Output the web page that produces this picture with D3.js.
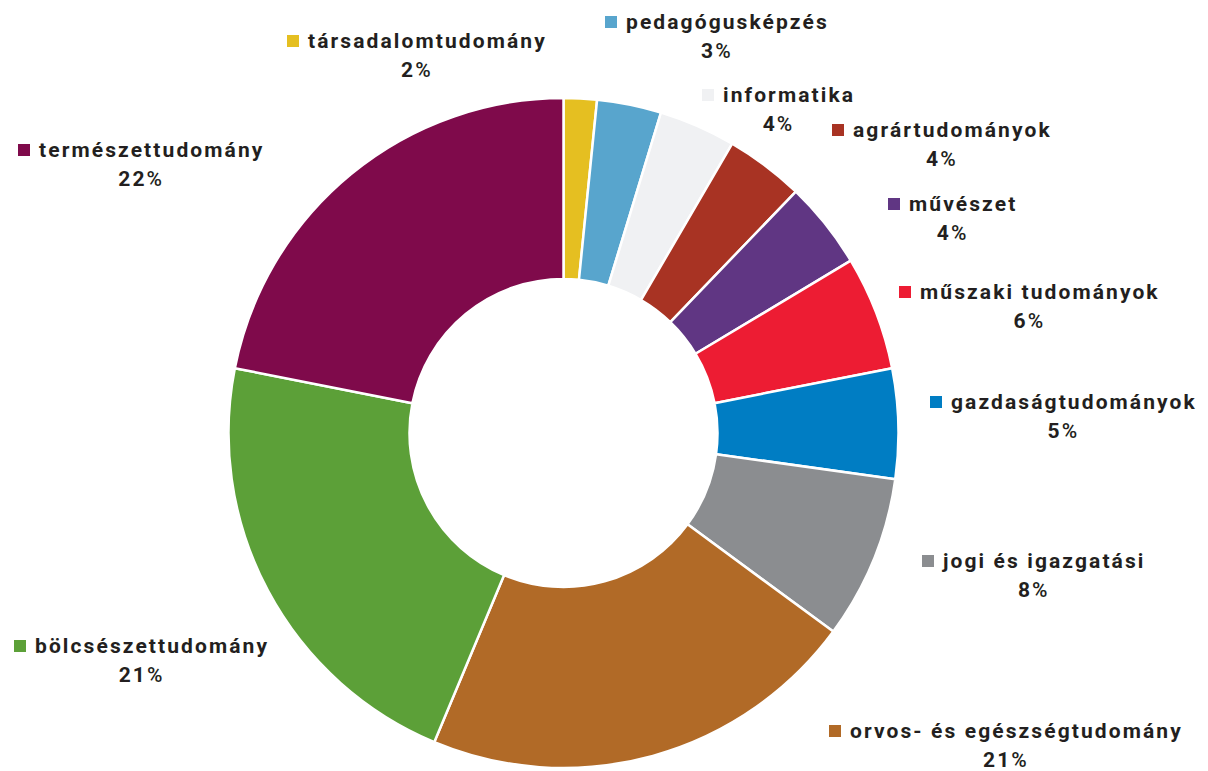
<!DOCTYPE html>
<html>
<head>
<meta charset="utf-8">
<script src="https://cdn.jsdelivr.net/npm/d3@7"></script>
<style>
  html, body { margin: 0; padding: 0; background: #fff; }
  svg { display: block; }
  .lbl { font-family: Roboto, "Noto Sans", sans-serif; font-size: 21px; font-weight: 700; fill: #231f20; letter-spacing: 2.1px; }
  .pct-sign { font-weight: 500; }
</style>
</head>
<body>
<svg id="chart" width="1208" height="771"></svg>
<script>
// szakterületek, óramutató irányában 12 órától
var categories = ["társadalomtudomány", "pedagógusképzés", "informatika", "agrártudományok", "művészet",
	"műszaki tudományok", "gazdaságtudományok", "jogi és igazgatási", "orvos- és egészségtudomány",
	"bölcsészettudomány", "természettudomány"];
// szelet méret (%), a képről becsülve
var shares = [1.6, 3.1, 3.7, 3.8, 4.2, 5.5, 5.3, 7.9, 21.2, 21.8, 21.9];
// a feliratokon megjelenő kerekített értékek
var shareLabels = [2, 3, 4, 4, 4, 6, 5, 8, 21, 21, 22];
var colorList = ["#e5bf21", "#58a5cd", "#f0f1f3", "#a83323", "#603683", "#ed1c33", "#007dc3",
	"#8b8d90", "#b16a27", "#5ca038", "#7f0a4b"];

// felirat helye: szöveg kezdete x, első sor alapvonala y
var labelAt = [[308, 48], [626, 29], [723, 102], [853, 137], [909, 211], [920, 299], [951, 409],
	[943, 568], [850, 738], [35, 653], [39, 157]];

var svg = d3.select("#chart"),
	width = +svg.attr("width"),
	height = +svg.attr("height");

var cx = 563.5, cy = 433,
	outerR = 335, innerR = 154;

var data = categories.map(function (c, i) {
	return { name: c, value: shares[i], label: shareLabels[i], color: colorList[i], pos: labelAt[i] };
});

var pie = d3.pie()
	.sort(null)
	.value(function (d) { return d.value; });

var arc = d3.arc()
	.innerRadius(innerR)
	.outerRadius(outerR);

var g = svg.append("g")
	.attr("transform", "translate(" + cx + "," + cy + ")");

g.selectAll(".slice")
	.data(pie(data))
	.enter()
	.append("path")
	.attr("class", "slice")
	.attr("d", arc)
	.attr("fill", function (d) { return d.data.color; })
	.attr("stroke", "#fff")
	.attr("stroke-width", 2.5)
	.attr("stroke-linejoin", "round");

// feliratok
var lab = svg.selectAll(".label")
	.data(data)
	.enter()
	.append("g")
	.attr("class", "label");

lab.each(function (d) {
	var el = d3.select(this);
	var x = d.pos[0], y = d.pos[1];
	var sq = 12, gap = 9;

	var name = el.append("text")
		.attr("class", "lbl")
		.attr("x", x)
		.attr("y", y)
		.text(d.name);
	var w = name.node().getComputedTextLength();

	el.append("rect")
		.attr("x", x - gap - sq)
		.attr("y", y - sq - 1)
		.attr("width", sq)
		.attr("height", sq)
		.attr("fill", d.color);

	var mid = (x - gap - sq + x + w) / 2;
	var p = el.append("text")
		.attr("class", "lbl")
		.attr("x", mid)
		.attr("y", y + 29)
		.attr("text-anchor", "middle");
	p.append("tspan").text(d.label);
	p.append("tspan").attr("class", "pct-sign").text("%");
});
</script>
</body>
</html>
